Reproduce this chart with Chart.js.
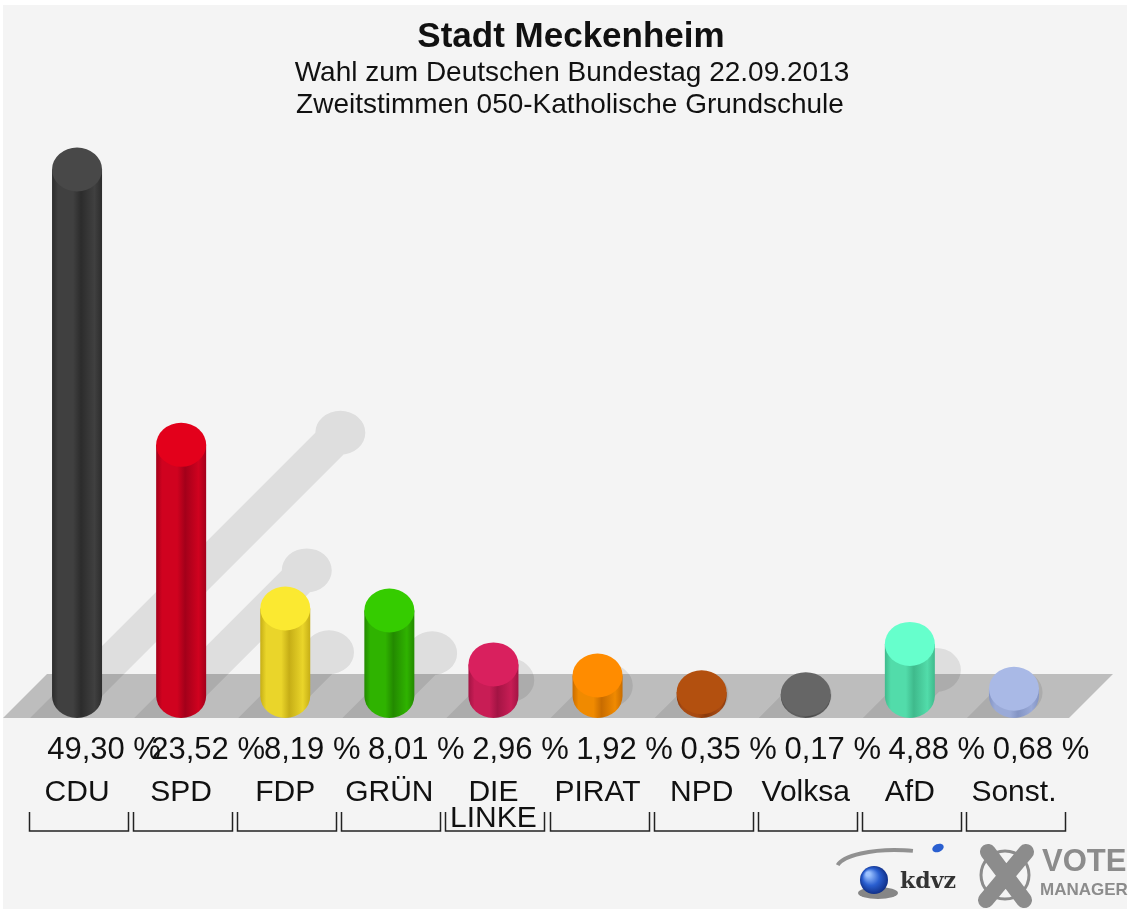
<!DOCTYPE html>
<html>
<head>
<meta charset="utf-8">
<title>Stadt Meckenheim</title>
<script src="https://cdn.jsdelivr.net/npm/chart.js@4.4.1/dist/chart.umd.min.js"></script>
<style>
  html, body { margin: 0; padding: 0; background: #fff; }
  #wrap { width: 1131px; height: 909px; }
</style>
</head>
<body>
<div id="wrap"><canvas id="chart" width="1131" height="909"></canvas></div>
<script>
// --- Data ---
const parties = ['CDU', 'SPD', 'FDP', 'GRÜN', ['DIE', 'LINKE'], 'PIRAT', 'NPD', 'Volksa', 'AfD', 'Sonst.'];
const shares = [49.30, 23.52, 8.19, 8.01, 2.96, 1.92, 0.35, 0.17, 4.88, 0.68];
const bodyColors = ['#404040', '#d0021f', '#ead52a', '#2fb300', '#c81d55', '#f08a00', '#a84a12', '#5e5e5e', '#52dcaa', '#9aaad8'];
const darkColors = ['#2c2c2c', '#a3001a', '#c6ae16', '#238a00', '#a31444', '#c86c00', '#8a3a0c', '#4a4a4a', '#3fba8c', '#8394c4'];
const capColors = ['#484848', '#e3001b', '#fbe931', '#35cc00', '#d9205e', '#ff8c00', '#b3500f', '#666666', '#66ffcc', '#a9b9e6'];
const titleLines = ['Stadt Meckenheim', 'Wahl zum Deutschen Bundestag 22.09.2013', 'Zweitstimmen 050-Katholische Grundschule'];

const FONT = '"Liberation Sans", Arial, Helvetica, sans-serif';
const RX = 25, RY = 22;
const FLOOR_FRONT = 718;

const fmt = (v) => v.toFixed(2).replace('.', ',') + ' %';

// --- Drawing helpers ---
const cylinderPlugin = {
  id: 'cylinders',
  beforeDraw(chart) {
    const { ctx } = chart;
    ctx.save();
    ctx.fillStyle = '#f4f4f4';
    ctx.fillRect(3, 5, 1124, 904);
    ctx.restore();
  },
  beforeDatasetsDraw(chart) {
    const { ctx } = chart;
    const meta = chart.getDatasetMeta(0);
    const base = meta.data[0].base;

    // floor
    ctx.save();
    ctx.fillStyle = '#bdbdbd';
    ctx.beginPath();
    ctx.moveTo(3, FLOOR_FRONT);
    ctx.lineTo(47, base - RY);
    ctx.lineTo(1113, base - RY);
    ctx.lineTo(1069, FLOOR_FRONT);
    ctx.closePath();
    ctx.fill();

    // shadows: 45deg bands, half the bar height long, cut at the floor's front edge
    ctx.beginPath();
    ctx.rect(0, 0, 1131, FLOOR_FRONT);
    ctx.clip();
    ctx.fillStyle = 'rgba(0,0,0,0.09)';
    ctx.beginPath();
    meta.data.forEach((bar) => {
      const d = (bar.base - bar.y) / 2;
      const x = bar.x, b = bar.base;
      const k = FLOOR_FRONT - b + 2;
      ctx.moveTo(x - RX - k, b + k);
      ctx.lineTo(x - RX + d, b - d);
      ctx.lineTo(x + RX + d, b - d);
      ctx.lineTo(x + RX - k, b + k);
      ctx.closePath();
      ctx.moveTo(x + d + RX, b - d);
      ctx.ellipse(x + d, b - d, RX, RY, 0, 0, Math.PI * 2);
    });
    ctx.fill();
    ctx.restore();
  },
  afterDatasetsDraw(chart) {
    const { ctx } = chart;
    const meta = chart.getDatasetMeta(0);
    ctx.save();
    meta.data.forEach((bar, i) => {
      const x = bar.x, top = bar.y, b = bar.base;
      const g = ctx.createLinearGradient(x - RX, 0, x + RX, 0);
      g.addColorStop(0, darkColors[i]);
      g.addColorStop(0.12, bodyColors[i]);
      g.addColorStop(0.42, bodyColors[i]);
      g.addColorStop(0.58, darkColors[i]);
      g.addColorStop(0.85, bodyColors[i]);
      g.addColorStop(1, darkColors[i]);
      ctx.fillStyle = g;
      ctx.beginPath();
      ctx.moveTo(x - RX, top);
      ctx.lineTo(x + RX, top);
      ctx.lineTo(x + RX, b);
      ctx.ellipse(x, b, RX, RY, 0, 0, Math.PI, false);
      ctx.closePath();
      ctx.fill();

      ctx.fillStyle = capColors[i];
      ctx.beginPath();
      ctx.ellipse(x, top, RX, RY, 0, 0, Math.PI * 2);
      ctx.fill();
    });
    ctx.restore();
  },
  afterDraw(chart) {
    const { ctx } = chart;
    const meta = chart.getDatasetMeta(0);
    ctx.save();

    // titles
    ctx.fillStyle = '#111';
    ctx.textAlign = 'center';
    ctx.textBaseline = 'middle';
    ctx.font = 'bold 35px ' + FONT;
    ctx.fillText(titleLines[0], 571, 37);
    ctx.font = '28px ' + FONT;
    ctx.fillText(titleLines[1], 572, 73);
    ctx.fillText(titleLines[2], 570, 105);

    // value labels
    ctx.font = '31px ' + FONT;
    meta.data.forEach((bar, i) => {
      ctx.fillText(fmt(shares[i]), bar.x + 27, 750);
    });

    // brackets under the names
    ctx.strokeStyle = '#222';
    ctx.lineWidth = 1.5;
    meta.data.forEach((bar) => {
      const l = Math.round(bar.x - 48) + 0.5, r = Math.round(bar.x + 51) + 0.5;
      ctx.beginPath();
      ctx.moveTo(l, 812);
      ctx.lineTo(l, 831);
      ctx.lineTo(r, 831);
      ctx.lineTo(r, 812);
      ctx.stroke();
    });

    // kdvz logo
    ctx.strokeStyle = 'rgba(120,120,120,0.8)';
    ctx.lineWidth = 4;
    ctx.beginPath();
    ctx.ellipse(895, 868, 58, 18, 0, Math.PI * 1.05, Math.PI * 1.6);
    ctx.stroke();
    ctx.fillStyle = 'rgba(0,0,0,0.45)';
    ctx.beginPath();
    ctx.ellipse(878, 893, 20, 6, 0, 0, Math.PI * 2);
    ctx.fill();
    const sph = ctx.createRadialGradient(868, 874, 2, 874, 880, 15);
    sph.addColorStop(0, '#9cc2ff');
    sph.addColorStop(0.5, '#2a5fd0');
    sph.addColorStop(1, '#0d2a80');
    ctx.fillStyle = sph;
    ctx.beginPath();
    ctx.arc(874, 880, 14, 0, Math.PI * 2);
    ctx.fill();
    ctx.fillStyle = '#2a5fd0';
    ctx.beginPath();
    ctx.ellipse(938, 848, 6, 4, -0.4, 0, Math.PI * 2);
    ctx.fill();
    ctx.fillStyle = '#333';
    ctx.textAlign = 'left';
    ctx.font = 'bold 22px "DejaVu Serif", serif';
    ctx.fillText('kdvz', 900, 882);

    // vote manager logo
    ctx.strokeStyle = '#8c8c8c';
    ctx.lineWidth = 3;
    ctx.beginPath();
    ctx.arc(1005, 875, 24, 0, Math.PI * 2);
    ctx.stroke();
    ctx.lineWidth = 16;
    ctx.lineCap = 'round';
    ctx.beginPath();
    ctx.moveTo(988, 852);
    ctx.lineTo(1024, 900);
    ctx.moveTo(1026, 852);
    ctx.lineTo(986, 900);
    ctx.stroke();
    ctx.fillStyle = '#8c8c8c';
    ctx.font = 'bold 31px ' + FONT;
    ctx.fillText('VOTE', 1042, 862);
    ctx.font = 'bold 17px ' + FONT;
    ctx.fillText('MANAGER', 1040, 890);
    ctx.restore();
  }
};

// --- Chart ---
new Chart(document.getElementById('chart'), {
  type: 'bar',
  data: {
    labels: parties,
    datasets: [{
      data: shares,
      backgroundColor: 'rgba(0,0,0,0)',
      borderWidth: 0,
      barThickness: 50
    }]
  },
  options: {
    responsive: false,
    animation: false,
    events: [],
    layout: { padding: { top: 162, left: 25, right: 65, bottom: 0 } },
    plugins: {
      legend: { display: false },
      tooltip: { enabled: false }
    },
    scales: {
      y: { display: false, min: 0, max: 50 },
      x: {
        grid: { display: false, drawTicks: false },
        border: { display: false },
        ticks: {
          color: '#111',
          font: { family: FONT, size: 30, lineHeight: 0.85 },
          padding: 84,
          maxRotation: 0,
          autoSkip: false
        },
        afterFit: (scale) => {
          scale.height = 213;
          scale.paddingLeft = 0;
          scale.paddingRight = 0;
        }
      }
    }
  },
  plugins: [cylinderPlugin]
});
</script>
</body>
</html>
